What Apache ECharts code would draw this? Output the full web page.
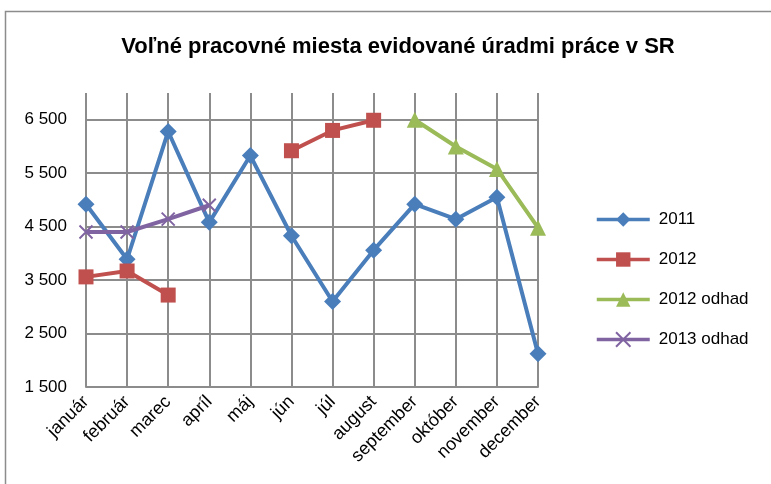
<!DOCTYPE html>
<html>
<head>
<meta charset="utf-8">
<script src="https://cdn.jsdelivr.net/npm/echarts@6/dist/echarts.min.js"></script>
<style>html,body{margin:0;padding:0;background:#fff}#c{width:771px;height:484px}</style>
</head>
<body>
<div id="c"></div>
<script>
const titleText = 'Voľné pracovné miesta evidované úradmi práce v SR';
const months = ['január','február','marec','apríl','máj','jún','júl','august','september','október','november','december'];
const s2011 = [4920, 3890, 6280, 4580, 5830, 4330, 3100, 4060, 4920, 4640, 5050, 2120];
const s2012 = [3560, 3670, 3220, null, null, 5920, 6300, 6490, null, null, null, null];
const s2012odhad = [null, null, null, null, null, null, null, null, 6500, 6000, 5580, 4480];
const s2013odhad = [4400, 4400, 4640, 4900, null, null, null, null, null, null, null, null];
const seriesNames = ['2011', '2012', '2012 odhad', '2013 odhad'];
const yMin = 1500, yMax = 7000, yStep = 1000;

const FONT = '"Liberation Sans", Arial, sans-serif';
const GRID = '#8c8c8c';
const colors = ['#4A7EBB', '#C0504D', '#9BBB59', '#8064A2'];
const xSym = 'path://M0,0L10,10M10,0L0,10';

function fmt(v){ return String(v).replace(/\B(?=(\d{3})+(?!\d))/g, ' '); }

const chart = echarts.init(document.getElementById('c'), null, {renderer: 'canvas'});
const mk = (name, data, color, symbol, size, extra) => Object.assign({
  name, type: 'line', data, symbol, symbolSize: size, connectNulls: false,
  lineStyle: {color, width: 4},
  itemStyle: {color, borderColor: color, borderWidth: 0},
  animation: false
}, extra || {});

chart.setOption({
  animation: false,
  title: {
    text: titleText, left: 393, top: 31, textAlign: 'center',
    textStyle: {fontFamily: FONT, fontWeight: 'bold', fontSize: 22, color: '#000'}
  },
  graphic: [{
    type: 'rect', shape: {x: 5.5, y: 11.5, width: 820, height: 520},
    style: {fill: 'none', stroke: GRID, lineWidth: 1.5}, silent: true
  }],
  legend: {
    orient: 'vertical', left: 595, top: 209, padding: 0,
    itemWidth: 53, itemHeight: 18, itemGap: 19,
    lineStyle: {width: 3.5},
    textStyle: {fontFamily: FONT, fontSize: 17, color: '#000', lineHeight: 21, padding: [0,0,0,4]},
    data: seriesNames
  },
  grid: {left: 86, right: 233, top: 93, bottom: 97, containLabel: false},
  xAxis: {
    type: 'category', data: months, boundaryGap: false,
    axisLine: {show: true, lineStyle: {color: GRID, width: 2}},
    axisTick: {show: false},
    splitLine: {show: true, lineStyle: {color: GRID, width: 2}},
    axisLabel: {rotate: 45, margin: 12, fontFamily: FONT, fontSize: 18, color: '#000', interval: 0}
  },
  yAxis: {
    type: 'value', min: yMin, max: yMax, interval: yStep,
    axisLine: {show: false}, axisTick: {show: false},
    splitLine: {show: true, showMaxLine: false, lineStyle: {color: GRID, width: 2}},
    axisLabel: {showMaxLabel: false, margin: 19, fontFamily: FONT, fontSize: 17, color: '#000', formatter: fmt}
  },
  series: [
    mk(seriesNames[0], s2011, colors[0], 'diamond', 17),
    mk(seriesNames[1], s2012, colors[1], 'rect', 15),
    mk(seriesNames[2], s2012odhad, colors[2], 'triangle', 16),
    mk(seriesNames[3], s2013odhad, colors[3], xSym, 13, {itemStyle: {color: 'none', borderColor: colors[3], borderWidth: 2}})
  ]
});
</script>
</body>
</html>
